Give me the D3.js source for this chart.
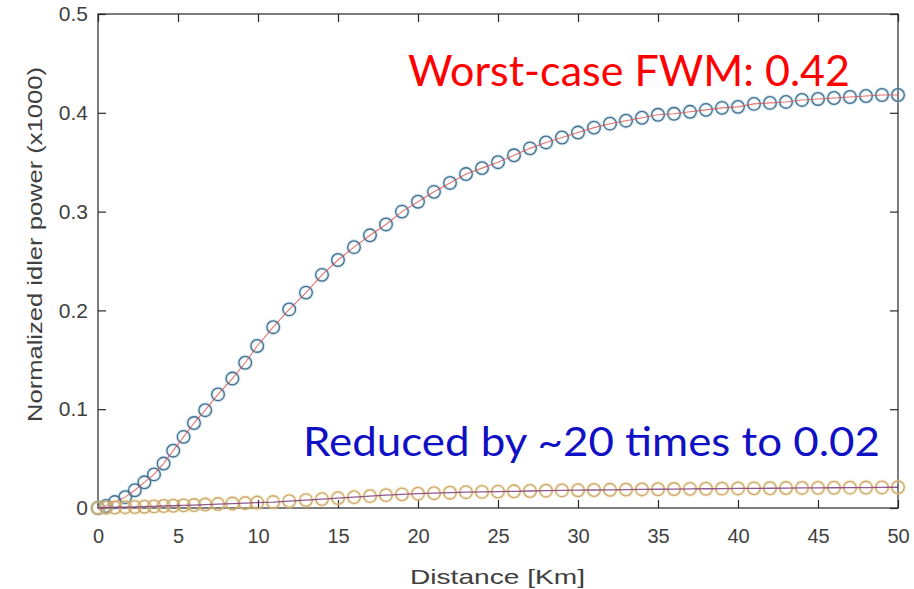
<!DOCTYPE html>
<html>
<head>
<meta charset="utf-8">
<script src="https://cdn.jsdelivr.net/npm/d3@7"></script>
<style>
  body { margin: 0; background: #fff; }
  svg text { font-family: "Liberation Sans", Arial, sans-serif; }
</style>
</head>
<body>
<svg id="chart" width="914" height="589"></svg>
<script>
// distance samples along the fibre (km)
var distance = [0, 0.5, 1.05, 1.7, 2.3, 2.9, 3.5, 4.1, 4.7, 5.35, 6.0, 6.7, 7.5, 8.4, 9.2, 9.95,
    10.95, 11.95, 13, 14, 15, 16, 17, 18, 19, 20, 21, 22, 23, 24, 25, 26, 27, 28, 29, 30,
    31, 32, 33, 34, 35, 36, 37, 38, 39, 40, 41, 42, 43, 44, 45, 46, 47, 48, 49, 50];

// worst case idler power (x1000)
var worstCase = [0, 0.002, 0.006, 0.011, 0.018, 0.026, 0.034, 0.045, 0.058, 0.072, 0.086, 0.099, 0.115, 0.131, 0.147, 0.164,
    0.183, 0.201, 0.218, 0.236, 0.251, 0.264, 0.276, 0.287, 0.300, 0.310, 0.320, 0.329, 0.338, 0.344, 0.350, 0.357, 0.364, 0.370, 0.375, 0.380,
    0.385, 0.389, 0.392, 0.395, 0.398, 0.399, 0.401, 0.403, 0.405, 0.406, 0.409, 0.410, 0.411, 0.413, 0.414, 0.415, 0.416, 0.417, 0.418, 0.418];

// reduced idler power (x1000)
var reduced = [0, 0.0003, 0.0005, 0.0008, 0.001, 0.0013, 0.0016, 0.002, 0.0023, 0.0027, 0.003, 0.0035, 0.004, 0.0045, 0.005, 0.0055,
    0.006, 0.007, 0.008, 0.009, 0.010, 0.011, 0.012, 0.013, 0.0138, 0.0145, 0.015, 0.0155, 0.016, 0.0163, 0.0166, 0.0169, 0.0172, 0.0175, 0.0178, 0.018,
    0.0182, 0.0184, 0.0186, 0.0188, 0.019, 0.0192, 0.0194, 0.0195, 0.0196, 0.0198, 0.0199, 0.020, 0.0202, 0.0203, 0.0204, 0.0205, 0.0206, 0.0207, 0.0208, 0.021];

var xTicks = [0, 5, 10, 15, 20, 25, 30, 35, 40, 45, 50];
var yTicks = [0, 0.1, 0.2, 0.3, 0.4, 0.5];

var svg = d3.select("#chart");
var plotLeft = 98, plotRight = 898, plotTop = 14, plotBottom = 508;

var x = d3.scaleLinear().domain([0, 50]).range([plotLeft, plotRight]);
var y = d3.scaleLinear().domain([0, 0.5]).range([plotBottom, plotTop]);

var axisColor = "#262626";
var labelColor = "#404040";

// box
svg.append("rect")
    .attr("x", plotLeft).attr("y", plotTop)
    .attr("width", plotRight - plotLeft).attr("height", plotBottom - plotTop)
    .attr("fill", "#fff").attr("stroke", axisColor).attr("stroke-width", 1.2);

// axes, ticks pointing inward like matlab
var xAxis = svg.append("g")
    .attr("transform", "translate(0," + plotBottom + ")")
    .call(d3.axisBottom(x).tickValues(xTicks).tickSize(-8).tickPadding(21).tickFormat(d3.format("d")));
var xAxisTop = svg.append("g")
    .attr("transform", "translate(0," + plotTop + ")")
    .call(d3.axisTop(x).tickValues(xTicks).tickSize(-8).tickFormat(""));
var yAxis = svg.append("g")
    .attr("transform", "translate(" + plotLeft + ",0)")
    .call(d3.axisLeft(y).tickValues(yTicks).tickSize(-8).tickPadding(10).tickFormat(function(d) { return d === 0 ? "0" : d3.format(".1f")(d); }));
var yAxisRight = svg.append("g")
    .attr("transform", "translate(" + plotRight + ",0)")
    .call(d3.axisRight(y).tickValues(yTicks).tickSize(-8).tickFormat(""));

[xAxis, xAxisTop, yAxis, yAxisRight].forEach(function(g) {
    g.select(".domain").remove();
    g.selectAll(".tick line").attr("stroke", axisColor).attr("stroke-width", 1.2);
    g.selectAll(".tick text")
        .attr("fill", labelColor)
        .style("font-size", "20px")
        .style("font-family", "'Liberation Sans', Arial, sans-serif");
});
yAxis.selectAll(".tick text").style("font-size", "21px");

// curves
var line = d3.line()
    .x(function(d) { return x(d[0]); })
    .y(function(d) { return y(d[1]); });

var worstPts = distance.map(function(d, i) { return [d, worstCase[i]]; });
var reducedPts = distance.map(function(d, i) { return [d, reduced[i]]; });

function markers(pts, color, halo) {
    var g = svg.append("g");
    g.selectAll("circle.halo")
        .data(pts).enter().append("circle")
        .attr("cx", function(d) { return x(d[0]); })
        .attr("cy", function(d) { return y(d[1]); })
        .attr("r", 6.3)
        .attr("fill", "none")
        .attr("stroke", halo)
        .attr("stroke-width", 3.5)
        .attr("stroke-opacity", 0.35);
    g.selectAll("circle.mark")
        .data(pts).enter().append("circle")
        .attr("cx", function(d) { return x(d[0]); })
        .attr("cy", function(d) { return y(d[1]); })
        .attr("r", 6.3)
        .attr("fill", "none")
        .attr("stroke", color)
        .attr("stroke-width", 1.3);
}

markers(worstPts, "#4a6c84", "#7fc4e8");
svg.append("path").datum(worstPts)
    .attr("d", line).attr("fill", "none")
    .attr("stroke", "#d9534f").attr("stroke-width", 1.1).attr("stroke-opacity", 0.8);

markers(reducedPts, "#c9a877", "#f2d27a");
svg.append("path").datum(reducedPts)
    .attr("d", line).attr("fill", "none")
    .attr("stroke", "#7e3b7f").attr("stroke-width", 1.3).attr("stroke-opacity", 0.85);

// axis titles
svg.append("text")
    .attr("x", 410).attr("y", 584)
    .attr("textLength", 175).attr("lengthAdjust", "spacingAndGlyphs")
    .attr("fill", labelColor)
    .style("font-size", "21px")
    .text("Distance [Km]");

svg.append("text")
    .attr("transform", "translate(42,422) rotate(-90)")
    .attr("textLength", 355).attr("lengthAdjust", "spacingAndGlyphs")
    .attr("fill", labelColor)
    .style("font-size", "21px")
    .text("Normalized idler power (x1000)");

// annotations
svg.append("text")
    .attr("x", 408).attr("y", 86)
    .attr("fill", "#ff0000")
    .attr("textLength", 442).attr("lengthAdjust", "spacingAndGlyphs")
    .style("font-family", "Lato, 'Open Sans', sans-serif")
    .style("font-size", "42px")
    .text("Worst-case FWM: 0.42");

svg.append("text")
    .attr("x", 303).attr("y", 456)
    .attr("fill", "#1010c4")
    .attr("textLength", 577).attr("lengthAdjust", "spacingAndGlyphs")
    .style("font-family", "Lato, 'Open Sans', sans-serif")
    .style("font-size", "41px")
    .text("Reduced by ~20 times to 0.02");
</script>
</body>
</html>
